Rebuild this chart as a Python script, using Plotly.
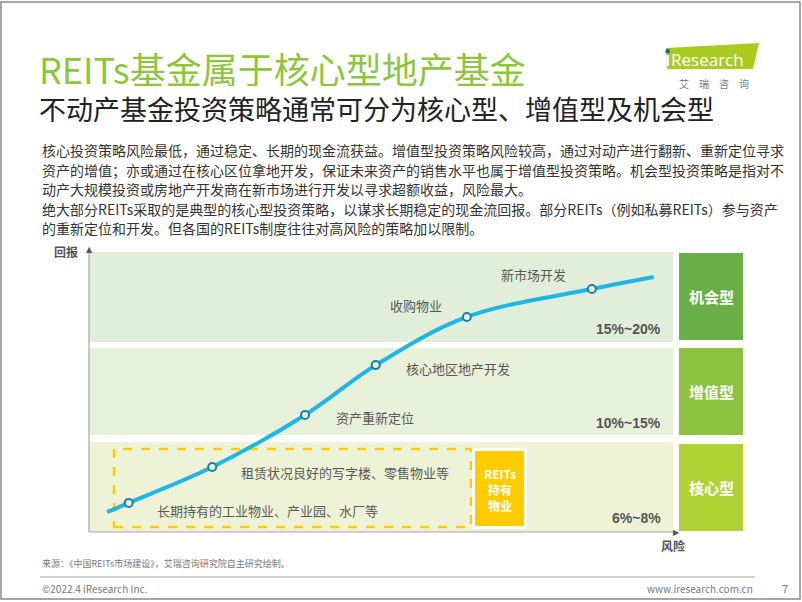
import plotly.graph_objects as go

# ---------------- data ----------------
stage_labels = ["长期持有的工业物业、产业园、水厂等", "租赁状况良好的写字楼、零售物业等",
                "资产重新定位", "核心地区地产开发", "收购物业", "新市场开发"]
stage_risk = [6.8, 21.1, 37.0, 49.1, 64.7, 86.1]
stage_return = [10.4, 23.2, 41.8, 59.6, 76.8, 86.8]
curve_risk = [3.1, 6.8, 21.1, 37.0, 49.1, 64.7, 86.1, 96.7]
curve_return = [7.1, 10.4, 23.2, 41.8, 59.6, 76.8, 86.8, 91.1]
strategy_names = ["核心型", "增值型", "机会型"]
strategy_returns = ["6%~8%", "10%~15%", "15%~20%"]
reits_box_lines = ["REITs", "持有", "物业"]
body_lines = [
    "核心投资策略风险最低，通过稳定、长期的现金流获益。增值型投资策略风险较高，通过对动产进行翻新、重新定位寻求",
    "资产的增值；亦或通过在核心区位拿地开发，保证未来资产的销售水平也属于增值型投资策略。机会型投资策略是指对不",
    "动产大规模投资或房地产开发商在新市场进行开发以寻求超额收益，风险最大。",
    "绝大部分REITs采取的是典型的核心型投资策略，以谋求长期稳定的现金流回报。部分REITs（例如私募REITs）参与资产",
    "的重新定位和开发。但各国的REITs制度往往对高风险的策略加以限制。",
]

W, H = 802, 602
FONT = "Noto Sans CJK SC, Microsoft YaHei, sans-serif"


def px(x):
    return x / W


def py(y):
    return 1 - y / H


# chart area (pixels)
CL, CR, CT, CB = 89, 673, 252, 532

fig = go.Figure()

# curve
fig.add_trace(go.Scatter(x=curve_risk, y=curve_return, mode="lines",
                         line=dict(color="#1DB6E6", width=4, shape="spline", smoothing=1.0),
                         hoverinfo="skip", showlegend=False))
fig.add_trace(go.Scatter(x=stage_risk, y=stage_return, mode="markers",
                         marker=dict(size=8, color="#EAF2DC", line=dict(color="#1A7FA6", width=2)),
                         hoverinfo="skip", showlegend=False))

shapes = []
annotations = []

# outer frame
shapes.append(dict(type="rect", xref="paper", yref="paper", x0=px(1), x1=px(800), y0=py(2), y1=py(599),
                   line=dict(color="#8A8A8A", width=1.5), fillcolor="rgba(0,0,0,0)", layer="below"))

# bands (core, value-add, opportunistic)
band_px = [(442, 532), (348, 435), (252, 342)]
band_colors = ["#EEF3D8", "#E7F0D9", "#E1EED9"]
box_px = [(444, 531), (348, 435), (253, 340)]
box_colors = ["#B1D135", "#8CC23F", "#69AE46"]
pct_y = [518, 423, 329]
for i in range(3):
    t, b = band_px[i]
    shapes.append(dict(type="rect", xref="paper", yref="paper", x0=px(CL), x1=px(CR), y0=py(b), y1=py(t),
                       line=dict(width=0), fillcolor=band_colors[i], layer="below"))
    t2, b2 = box_px[i]
    shapes.append(dict(type="rect", xref="paper", yref="paper", x0=px(679), x1=px(743), y0=py(b2), y1=py(t2),
                       line=dict(width=0), fillcolor=box_colors[i], layer="below"))
    annotations.append(dict(xref="paper", yref="paper", x=px(711), y=py((t2 + b2) / 2), text="<b>%s</b>" % strategy_names[i],
                            showarrow=False, font=dict(family=FONT, size=15, color="white"),
                            xanchor="center", yanchor="middle"))
    annotations.append(dict(xref="paper", yref="paper", x=px(663), y=py(pct_y[i]), text="<b>%s</b>" % strategy_returns[i],
                            showarrow=False, font=dict(family="Liberation Sans, Arial", size=14, color="#555555"),
                            xanchor="right", yanchor="middle"))

# axes lines
shapes.append(dict(type="line", xref="paper", yref="paper", x0=px(CL), x1=px(CL), y0=py(CB), y1=py(249),
                   line=dict(color="#A6A6A6", width=1.2)))
shapes.append(dict(type="line", xref="paper", yref="paper", x0=px(CL), x1=px(673), y0=py(CB), y1=py(CB),
                   line=dict(color="#A6A6A6", width=1.2)))
# arrow heads
annotations.append(dict(xref="paper", yref="paper", x=px(CL), y=py(249), text="▲", showarrow=False,
                        font=dict(family="DejaVu Sans", size=8, color="#555555"), xanchor="center", yanchor="middle"))
annotations.append(dict(xref="paper", yref="paper", x=px(676), y=py(CB), text="▶", showarrow=False,
                        font=dict(family="DejaVu Sans", size=8, color="#555555"), xanchor="center", yanchor="middle"))
annotations.append(dict(xref="paper", yref="paper", x=px(80), y=py(251), text="<b>回报</b>", showarrow=False,
                        font=dict(family=FONT, size=12, color="#555555"), xanchor="right", yanchor="middle"))
annotations.append(dict(xref="paper", yref="paper", x=px(673), y=py(545), text="<b>风险</b>", showarrow=False,
                        font=dict(family=FONT, size=12, color="#555555"), xanchor="center", yanchor="middle"))

# dashed box of REITs holdings
shapes.append(dict(type="rect", xref="paper", yref="paper", x0=px(114), x1=px(471), y0=py(527), y1=py(449),
                   line=dict(color="#FFCC00", width=2.5, dash="dash"), fillcolor="rgba(0,0,0,0)", layer="below"))
shapes.append(dict(type="rect", xref="paper", yref="paper", x0=px(472), x1=px(527), y0=py(529), y1=py(448),
                   line=dict(width=0), fillcolor="white", layer="below"))
shapes.append(dict(type="rect", xref="paper", yref="paper", x0=px(475), x1=px(524), y0=py(526), y1=py(451),
                   line=dict(width=0), fillcolor="#FFCC00", layer="below"))
for i, t in enumerate(reits_box_lines):
    annotations.append(dict(xref="paper", yref="paper", x=px(499.5), y=py(473 + 16 * i), text="<b>%s</b>" % t,
                            showarrow=False, font=dict(family=FONT, size=12, color="white"),
                            xanchor="center", yanchor="middle", height=15))

# stage labels attached to curve markers
label_offsets = [(26, -8, "left"), (27, -5, "left"), (29, -3, "left"), (28, -3, "left"),
                 (-23, 11, "right"), (-24, 14, "right")]
for i, lab in enumerate(stage_labels):
    dx, dy, anc = label_offsets[i]
    annotations.append(dict(xref="x", yref="y", x=stage_risk[i], y=stage_return[i], text=lab, showarrow=False,
                            xshift=dx, yshift=dy, xanchor=anc, yanchor="middle",
                            font=dict(family=FONT, size=13, color="#595959")))

# title / subtitle
annotations.append(dict(xref="paper", yref="paper", x=px(38), y=py(68), text="REITs基金属于核心型地产基金",
                        showarrow=False, font=dict(family=FONT, size=36, color="#8CC63E"),
                        xanchor="left", yanchor="middle", height=36, borderpad=0))
annotations.append(dict(xref="paper", yref="paper", x=px(38), y=py(108), text="不动产基金投资策略通常可分为核心型、增值型及机会型",
                        showarrow=False, font=dict(family=FONT, size=27, color="#222222"),
                        xanchor="left", yanchor="middle", height=27, borderpad=0))

# body text
body_y = [150, 170, 189, 209, 228]
for i, line in enumerate(body_lines):
    annotations.append(dict(xref="paper", yref="paper", x=px(40), y=py(body_y[i]), text=line,
                            showarrow=False, font=dict(family=FONT, size=14, color="#333333"),
                            xanchor="left", yanchor="middle", height=18))

# logo
shapes.append(dict(type="path", xref="paper", yref="paper",
                   path="M %f,%f L %f,%f L %f,%f L %f,%f Z" % (px(666), py(48), px(759), py(43),
                                                              px(753), py(69), px(667), py(69)),
                   fillcolor="#A9CB1E", line=dict(width=0)))
shapes.append(dict(type="rect", xref="paper", yref="paper", x0=px(666.5), x1=px(669), y0=py(66), y1=py(55),
                   fillcolor="white", line=dict(width=0)))
shapes.append(dict(type="circle", xref="paper", yref="paper", x0=px(665.4), x1=px(670), y0=py(53.5), y1=py(49),
                   fillcolor="#1F5FA8", line=dict(width=0)))
annotations.append(dict(xref="paper", yref="paper", x=px(669), y=py(59), text="Research",
                        showarrow=False, font=dict(family="Open Sans, Liberation Sans", size=17, color="white"),
                        xanchor="left", yanchor="middle", height=20))
annotations.append(dict(xref="paper", yref="paper", x=px(714), y=py(83), text="艾　瑞　咨　询",
                        showarrow=False, font=dict(family=FONT, size=10, color="#777777"),
                        xanchor="center", yanchor="middle", height=12))

# footer
annotations.append(dict(xref="paper", yref="paper", x=px(40), y=py(563), text="来源：《中国REITs市场建设》，艾瑞咨询研究院自主研究绘制。",
                        showarrow=False, font=dict(family=FONT, size=9, color="#777777"),
                        xanchor="left", yanchor="middle"))
shapes.append(dict(type="line", xref="paper", yref="paper", x0=px(40), x1=px(755), y0=py(577), y1=py(577),
                   line=dict(color="#A0A0A0", width=1)))
annotations.append(dict(xref="paper", yref="paper", x=px(40), y=py(588), text="©2022.4 iResearch Inc.",
                        showarrow=False, font=dict(family=FONT, size=10, color="#777777"),
                        xanchor="left", yanchor="middle"))
annotations.append(dict(xref="paper", yref="paper", x=px(755), y=py(588), text="www.iresearch.com.cn",
                        showarrow=False, font=dict(family=FONT, size=10, color="#777777"),
                        xanchor="right", yanchor="middle"))
annotations.append(dict(xref="paper", yref="paper", x=px(785), y=py(588), text="7",
                        showarrow=False, font=dict(family=FONT, size=11, color="#777777"),
                        xanchor="center", yanchor="middle"))

fig.update_layout(
    width=W, height=H, margin=dict(l=0, r=0, t=0, b=0),
    paper_bgcolor="white", plot_bgcolor="rgba(0,0,0,0)",
    xaxis=dict(domain=[px(CL), px(CR)], range=[0, 100], visible=False, fixedrange=True),
    yaxis=dict(domain=[py(CB), py(CT)], range=[0, 100], visible=False, fixedrange=True),
    shapes=shapes, annotations=annotations, showlegend=False,
)

fig.write_html("out.html", config={"displayModeBar": False},
               post_script="document.body.style.margin='0';")
